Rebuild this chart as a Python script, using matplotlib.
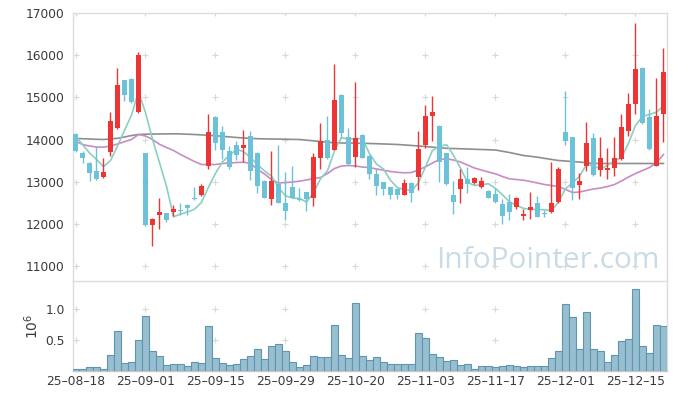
import matplotlib
matplotlib.use("Agg")
import matplotlib.pyplot as plt
import numpy as np

dates = ["25-08-18", "25-09-01", "25-09-15", "25-09-29", "25-10-20",
         "25-11-03", "25-11-17", "25-12-01", "25-12-15"]
date_idx = [0, 10, 20, 30, 40, 50, 60, 70, 80]

opens = [14136, 13683, 13445, 13262, 13102, 13698, 14279, 15405, 15452, 14650,
         13667, 11976, 12214, 12240, 12278, 12333, 12452, 12600, 12674, 13381,
         14531, 14174, 13738, 13881, 13786, 14095, 13683, 13024, 12588, 12929,
         12493, 12881, 12580, 12754, 12612, 13564, 14000, 13762, 15071, 14064,
         13587, 14119, 13619, 13167, 12983, 12865, 12826, 12690, 12969, 13111,
         13865, 14555, 14333, 13667, 12690, 12826, 13048, 12969, 12874, 12786,
         12714, 12476, 12524, 12389, 12174, 12317, 12493, 12245, 12269, 12507,
         14167, 14064, 12912, 13365, 14024, 13270, 13270, 13325, 13532, 14207,
         14841, 15714, 14540, 13373, 14619]
highs = [14160, 13738, 13460, 13841, 13548, 14659, 15707, 15421, 15470, 16088,
         13680, 12135, 12612, 12260, 12429, 12483, 12460, 12874, 12929, 14612,
         14555, 14317, 13841, 13960, 14238, 14198, 13700, 13040, 13722, 13865,
         13222, 13365, 12850, 12760, 13683, 14397, 14555, 15786, 15090, 14279,
         15374, 14130, 13630, 13286, 13000, 12880, 12840, 13048, 12980, 14198,
         14817, 15040, 14345, 13680, 13008, 13302, 13349, 13111, 13111, 12800,
         12850, 12588, 12714, 12630, 12350, 12745, 12667, 12330, 13469, 13349,
         15159, 14070, 13207, 14421, 14143, 14064, 13786, 14064, 14602, 15112,
         16778, 15730, 14722, 15469, 16167]
lows = [13700, 13429, 13024, 13040, 13090, 13619, 14255, 14912, 14874, 14635,
        11936, 11460, 11874, 12040, 12174, 12214, 12214, 12555, 12650, 13302,
        13762, 13540, 13286, 13524, 13460, 13031, 12731, 12600, 12452, 12480,
        12095, 12600, 12531, 12293, 12412, 13302, 13540, 13740, 14040, 13390,
        13341, 13550, 13048, 12690, 12690, 12595, 12595, 12680, 12517, 12793,
        13802, 13960, 12984, 12920, 12238, 12493, 12731, 12940, 12840, 12600,
        12500, 12000, 12095, 12350, 12095, 12111, 12150, 12160, 12260, 12490,
        13865, 12571, 12579, 13254, 13140, 13135, 13048, 13127, 13520, 14079,
        14619, 14380, 13740, 13360, 13945]
closes = [13721, 13555, 13207, 13048, 13238, 14452, 15286, 15055, 14888, 16000,
          11976, 12119, 12269, 12080, 12357, 12293, 12374, 12590, 12905, 14174,
          13921, 13762, 13341, 13643, 13881, 13245, 12888, 12612, 13024, 12493,
          12293, 12612, 12565, 12595, 13587, 13976, 13564, 14952, 14143, 13405,
          14040, 13564, 13167, 12905, 12810, 12690, 12690, 12969, 12731, 13778,
          14571, 14650, 13460, 12929, 12507, 13048, 12952, 13095, 13024, 12612,
          12507, 12174, 12269, 12612, 12238, 12389, 12159, 12235, 12493, 13286,
          13969, 12850, 13016, 13905, 13151, 13548, 13310, 13548, 14286, 14857,
          15667, 14397, 13770, 14564, 15611]
volumes = [0.03, 0.03, 0.06, 0.06, 0.04, 0.25, 0.64, 0.13, 0.14, 0.50,
           0.88, 0.33, 0.24, 0.10, 0.12, 0.11, 0.08, 0.145, 0.13, 0.72,
           0.205, 0.13, 0.095, 0.11, 0.19, 0.24, 0.35, 0.19, 0.41, 0.43,
           0.33, 0.14, 0.06, 0.09, 0.24, 0.22, 0.22, 0.74, 0.25, 0.205,
           1.09, 0.24, 0.17, 0.22, 0.14, 0.12, 0.11, 0.12, 0.11, 0.62,
           0.53, 0.27, 0.22, 0.155, 0.17, 0.09, 0.11, 0.04, 0.08, 0.08,
           0.06, 0.08, 0.09, 0.08, 0.06, 0.08, 0.08, 0.08, 0.205, 0.33,
           1.075, 0.87, 0.35, 0.95, 0.35, 0.33, 0.14, 0.25, 0.48, 0.51,
           1.32, 0.40, 0.285, 0.75, 0.72]  # millions of shares

ma5 = [14079, 13881, 13683, 13524, 13354, 13500, 13846, 14216, 14584, 15136,
       14641, 14008, 13450, 12889, 12160, 12224, 12275, 12339, 12504, 12867,
       13193, 13470, 13621, 13768, 13710, 13574, 13400, 13254, 13130, 12852,
       12662, 12607, 12597, 12512, 12730, 13067, 13257, 13735, 14044, 14008,
       14021, 14021, 13664, 13416, 13297, 13027, 12852, 12813, 12778, 12972,
       13348, 13740, 13838, 13878, 13623, 13319, 12979, 12906, 12925, 12946,
       12838, 12682, 12517, 12435, 12360, 12336, 12333, 12327, 12303, 12512,
       12828, 12967, 13123, 13405, 13378, 13294, 13386, 13492, 13569, 13910,
       14334, 14551, 14595, 14651, 14802]
ma20 = [13960, 13881, 13845, 13821, 13817, 13845, 13893, 13948, 14000, 14119,
        14083, 14000, 13886, 13810, 13738, 13643, 13560, 13476, 13405, 13405,
        13405, 13429, 13440, 13452, 13460, 13429, 13286, 13179, 13048, 12964,
        12976, 12988, 13008, 13036, 13071, 13095, 13190, 13310, 13369, 13381,
        13369, 13345, 13333, 13298, 13270, 13238, 13219, 13207, 13214, 13274,
        13350, 13440, 13524, 13540, 13512, 13464, 13393, 13321, 13274, 13226,
        13183, 13119, 13064, 13048, 13031, 13000, 12964, 12929, 12905, 12881,
        12810, 12738, 12750, 12786, 12822, 12845, 12881, 12929, 13012, 13107,
        13190, 13262, 13333, 13452, 13643]
ma60 = [14024, 14019, 14012, 14005, 14000, 14012, 14029, 14060, 14095, 14119,
        14126, 14131, 14131, 14133, 14136, 14133, 14126, 14119, 14110, 14100,
        14090, 14075, 14062, 14048, 14036, 14028, 14019, 14015, 14012, 14010,
        14006, 14003, 14000, 13985, 13968, 13952, 13936, 13921, 13918, 13915,
        13912, 13910, 13905, 13900, 13894, 13888, 13881, 13870, 13858, 13846,
        13833, 13818, 13804, 13790, 13785, 13780, 13774, 13768, 13762, 13756,
        13750, 13720, 13690, 13655, 13619, 13600, 13579, 13552, 13526, 13500,
        13488, 13476, 13464, 13446, 13429, 13429, 13429, 13429, 13429, 13429,
        13429, 13429, 13429, 13429, 13429]

price_ticks = [11000, 12000, 13000, 14000, 15000, 16000, 17000]
vol_ticks = [0.5, 1.0]

UP = "#ee3535"
DOWN = "#6cc3d9"
TXT = "#3a3a3a"
SPINE = "#dcdcdc"
CROSS = "#d8d8d8"

plt.rcParams["font.family"] = ["DejaVu Sans"]

fig = plt.figure(figsize=(6.77, 3.99), dpi=100)
ax = fig.add_axes([0.1078, 0.2982, 0.8774, 0.668])
axv = fig.add_axes([0.1078, 0.0702, 0.8774, 0.2255], sharex=ax)

x = np.arange(len(closes))

# moving averages
ax.plot(x, ma60, color="#8e8e8e", lw=1.2, zorder=2)
ax.plot(x, ma20, color="#c98bc6", lw=1.2, zorder=2)
ax.plot(x, ma5, color="#8ccfc0", lw=1.2, zorder=2)

# candles
for i in range(len(closes)):
    o, h, l, c = opens[i], highs[i], lows[i], closes[i]
    col = UP if c >= o else DOWN
    ax.vlines(x[i], l, h, color=col, lw=1.0, zorder=3)
    bottom = min(o, c)
    height = max(abs(c - o), 18)
    ax.bar(x[i], height, bottom=bottom, width=0.58, color=col, zorder=4, linewidth=0)

ax.set_xlim(-0.36, 84.5)
ax.set_ylim(10655, 17000)
ax.set_yticks(price_ticks)
ax.set_yticklabels([str(t) for t in price_ticks])
ax.tick_params(axis="y", length=0, pad=6, labelsize=8.8, labelcolor=TXT)
ax.tick_params(axis="x", length=0, labelbottom=False)
for s in ax.spines.values():
    s.set_color(SPINE)
    s.set_linewidth(1.0)
ax.spines["bottom"].set_visible(False)

# grid crosses
gx, gy = np.meshgrid(date_idx, price_ticks)
ax.scatter(gx.ravel(), gy.ravel(), marker="+", s=22, color=CROSS, lw=0.8, zorder=1)

ax.text(0.988, 0.045, "InfoPointer.com", transform=ax.transAxes, ha="right", va="baseline",
        fontsize=21.5, color="#c9dce6", family="Open Sans", zorder=0)

# volume
axv.bar(x, volumes, width=1.0, color="#98bfd0", edgecolor="#5f95b0", linewidth=0.8, zorder=3)
axv.set_ylim(0, 1.452)
axv.set_yticks(vol_ticks)
axv.set_yticklabels(["0.5", "1.0"])
axv.set_xticks(date_idx)
axv.set_xticklabels([d.replace("-", "\u2013") for d in dates])
axv.tick_params(axis="both", length=0, labelsize=8.8, labelcolor=TXT)
axv.tick_params(axis="x", labelsize=8.8, pad=3)
axv.tick_params(axis="y", pad=6)
for s in axv.spines.values():
    s.set_color(SPINE)
    s.set_linewidth(1.0)
axv.spines["bottom"].set_color("#c8c8c8")
vx, vy = np.meshgrid(date_idx, vol_ticks)
axv.scatter(vx.ravel(), vy.ravel(), marker="+", s=22, color=CROSS, lw=0.8, zorder=1)
axv.set_ylabel(r"$10^6$", fontsize=10, color=TXT, labelpad=3)

fig.savefig("out.png", dpi=100)
